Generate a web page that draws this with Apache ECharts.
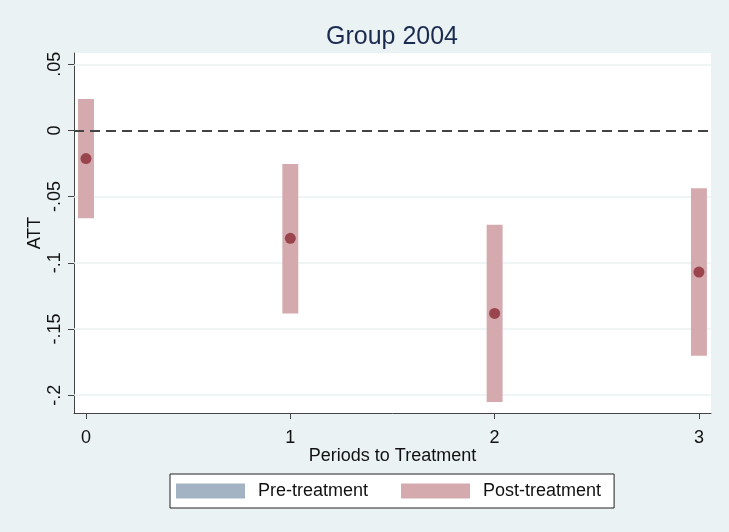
<!DOCTYPE html>
<html>
<head>
<meta charset="utf-8">
<script src="https://cdn.jsdelivr.net/npm/echarts@6/dist/echarts.min.js"></script>
<style>
  html, body { margin: 0; padding: 0; background: #eaf2f3; }
  #chart { width: 729px; height: 532px; }
</style>
</head>
<body>
<div id="chart"></div>
<script>
// Event-study estimates for the 2004 cohort
const periods = [0, 1, 2, 3];
const att = [-0.0213, -0.0815, -0.1383, -0.107];
const ciLow = [-0.0664, -0.1383, -0.2051, -0.1703];
const ciHigh = [0.0238, -0.0253, -0.0713, -0.0437];
const xTicks = [0, 1, 2, 3];
const yTicks = [-0.2, -0.15, -0.1, -0.05, 0, 0.05];

const FONT = "'Liberation Sans', Arial, sans-serif";
const POST_FILL = '#d4aaae';
const PRE_FILL = '#a3b3c4';
const POINT = '#8b2a35';
const TEXT = '#111111';

// Stata-style tick text: drop the leading zero (".05", "-.1")
function stataNum(v) {
  if (v === 0) return '0';
  const s = String(Math.abs(v)).replace(/^0/, '');
  return (v < 0 ? '-' : '') + s;
}

const chart = echarts.init(document.getElementById('chart'));

chart.setOption({
  backgroundColor: '#eaf2f3',
  animation: false,
  textStyle: { fontFamily: FONT },
  graphic: [{
    type: 'text',
    x: 392, y: 37,
    style: {
      text: 'Group 2004',
      font: '25px ' + FONT,
      fill: '#1a2b4f',
      textAlign: 'center',
      textVerticalAlign: 'middle'
    }
  }],
  grid: {
    left: 74, right: 18, top: 53, bottom: 119,
    show: true, backgroundColor: '#ffffff', borderWidth: 0
  },
  legend: {
    data: ['Pre-treatment', 'Post-treatment'],
    left: 170, top: 474,
    orient: 'horizontal',
    icon: 'rect',
    itemWidth: 69, itemHeight: 15,
    itemGap: 33,
    padding: [8, 13, 8, 6],
    backgroundColor: '#ffffff',
    borderColor: '#222222',
    borderWidth: 1,
    borderRadius: 0,
    selectedMode: false,
    textStyle: { fontSize: 18, color: TEXT, fontFamily: FONT, padding: [0, 0, 0, 8] }
  },
  xAxis: {
    type: 'value',
    min: -0.0587, max: 3.059,
    name: 'Periods to Treatment',
    nameLocation: 'middle',
    nameGap: 34,
    nameMoveOverlap: false,
    nameTextStyle: { fontSize: 18, color: TEXT, fontFamily: FONT },
    axisLine: { show: true, onZero: false, lineStyle: { color: '#444444', width: 1 } },
    axisTick: { show: true, length: 6, inside: false, customValues: xTicks, lineStyle: { color: '#444444' } },
    axisLabel: { customValues: xTicks, fontSize: 18, color: TEXT, margin: 16, formatter: v => String(v) },
    splitLine: { show: false }
  },
  yAxis: {
    type: 'value',
    min: -0.2135, max: 0.0585,
    name: 'ATT',
    nameLocation: 'middle',
    nameGap: 30,
    nameMoveOverlap: false,
    nameTextStyle: { fontSize: 18, color: TEXT, fontFamily: FONT },
    axisLine: { show: true, onZero: false, lineStyle: { color: '#444444', width: 1 } },
    axisTick: { show: true, length: 6, inside: false, customValues: yTicks, lineStyle: { color: '#444444' } },
    axisLabel: { customValues: yTicks, rotate: 90, fontSize: 18, color: TEXT, margin: 10, formatter: stataNum },
    splitLine: { show: false }
  },
  series: [
    {
      // horizontal reference grid at the labelled y values
      name: 'grid',
      type: 'line',
      data: [],
      z: 1,
      silent: true,
      markLine: {
        z: 1,
        silent: true,
        symbol: 'none',
        label: { show: false },
        lineStyle: { color: '#eaf1f2', width: 1.5, type: 'solid' },
        data: yTicks.filter(v => v !== 0).map(v => ({ yAxis: v }))
      }
    },
    {
      name: 'Pre-treatment',
      type: 'custom',
      data: [],
      itemStyle: { color: PRE_FILL },
      renderItem: () => null
    },
    {
      name: 'Post-treatment',
      type: 'custom',
      z: 3,
      itemStyle: { color: POST_FILL },
      encode: { x: 0, y: [1, 2] },
      data: periods.map((p, i) => [p, ciLow[i], ciHigh[i]]),
      renderItem: function (params, api) {
        const x = api.value(0);
        const top = api.coord([x, api.value(2)]);
        const bot = api.coord([x, api.value(1)]);
        const w = api.size([0.078, 0])[0];
        return {
          type: 'rect',
          shape: { x: top[0] - w / 2, y: top[1], width: w, height: bot[1] - top[1] },
          style: { fill: POST_FILL }
        };
      }
    },
    {
      // zero-effect reference line
      name: 'zero',
      type: 'line',
      data: [],
      z: 6,
      silent: true,
      markLine: {
        z: 6,
        silent: true,
        symbol: 'none',
        label: { show: false },
        lineStyle: { color: '#444444', width: 2, type: [10, 6] },
        data: [{ yAxis: 0 }]
      }
    },
    {
      name: 'ATT',
      type: 'scatter',
      z: 8,
      symbol: 'circle',
      symbolSize: 11,
      itemStyle: { color: POINT },
      data: periods.map((p, i) => [p, att[i]])
    }
  ]
});
</script>
</body>
</html>
